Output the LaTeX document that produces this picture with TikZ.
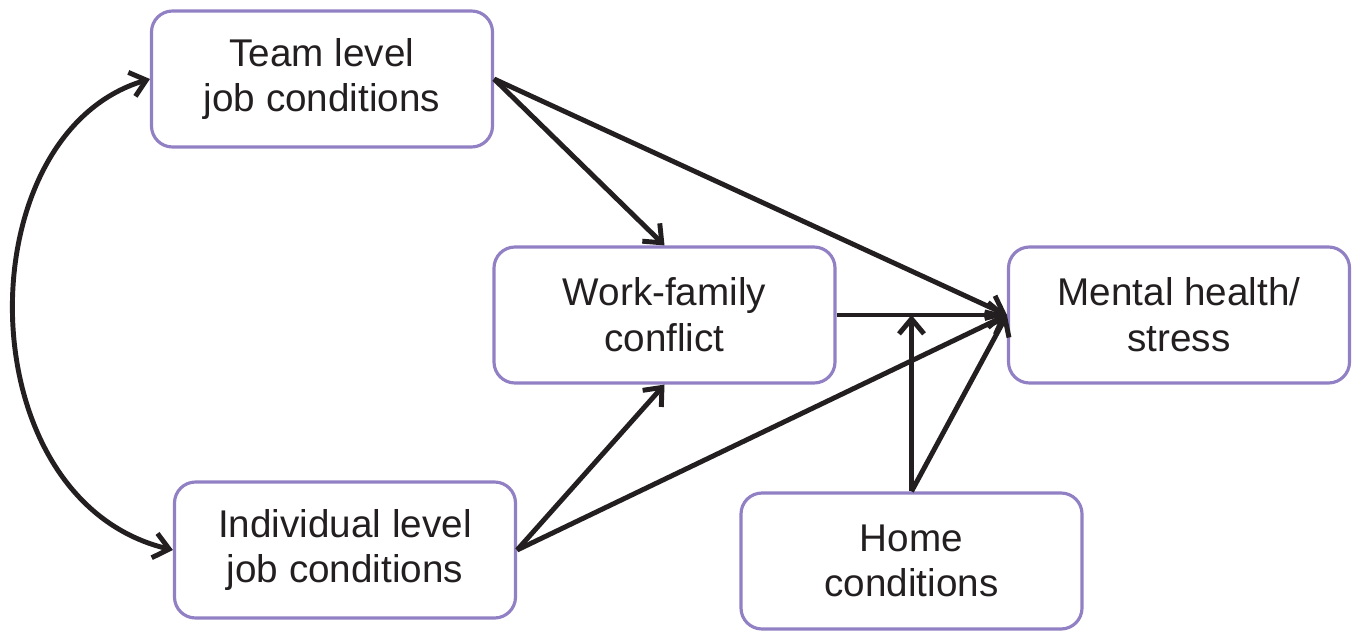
\documentclass[tikz,border=0pt]{standalone}
\usepackage{fontspec}
\setmainfont{Liberation Sans}
\usepackage{xcolor}
\usepackage{tikz}
\usetikzlibrary{arrows.meta}
\definecolor{lila}{HTML}{9280C4}
\definecolor{tinta}{HTML}{231F20}

\begin{document}
\begin{tikzpicture}[
    caja/.style={
        rectangle,
        rounded corners=0.42cm,
        draw=lila,
        line width=1.8pt,
        fill=white,
        minimum width=6.82cm,
        minimum height=2.72cm,
        align=center,
        text=tinta,
        font=\fontsize{22}{26}\selectfont,
    },
    rel/.style={-{Straight Barb[length=3mm, width=5mm, line width=2.8pt]}, line width=2.8pt, color=tinta},
    relbi/.style={rel, {Straight Barb[length=3mm, width=5mm, line width=2.8pt]}-{Straight Barb[length=3mm, width=5mm, line width=2.8pt]}},
]

\useasboundingbox (0,0) rectangle (27.2,-12.7);

\node[caja] (equipo)  at ( 6.44,  -1.58) {Team level\\job conditions};
\node[caja] (conflic) at (13.29,  -6.30) {Work-family\\conflict};
\node[caja] (salud)   at (23.58,  -6.30) {Mental health/\\stress};
\node[caja] (indiv)   at ( 6.90, -11.00) {Individual level\\job conditions};
\node[caja] (hogar)   at (18.23, -11.22) {Home\\conditions};

\coordinate (cruce) at (hogar.north |- conflic.east);

\draw[relbi] (equipo.west) .. controls +(-3.7,-1.1) and +(-4.16,1.0) .. (indiv.west);
\draw[rel] (equipo.east) -- (conflic.north);
\draw[rel] (equipo.east) -- (salud.west);
\draw[rel] (indiv.east)  -- (conflic.south);
\draw[rel] (indiv.east)  -- (salud.west);
\draw[rel] (conflic.east) -- (salud.west);
\draw[rel] (hogar.north) -- (cruce);
\draw[rel] (hogar.north) -- (salud.west);

\end{tikzpicture}
\end{document}
